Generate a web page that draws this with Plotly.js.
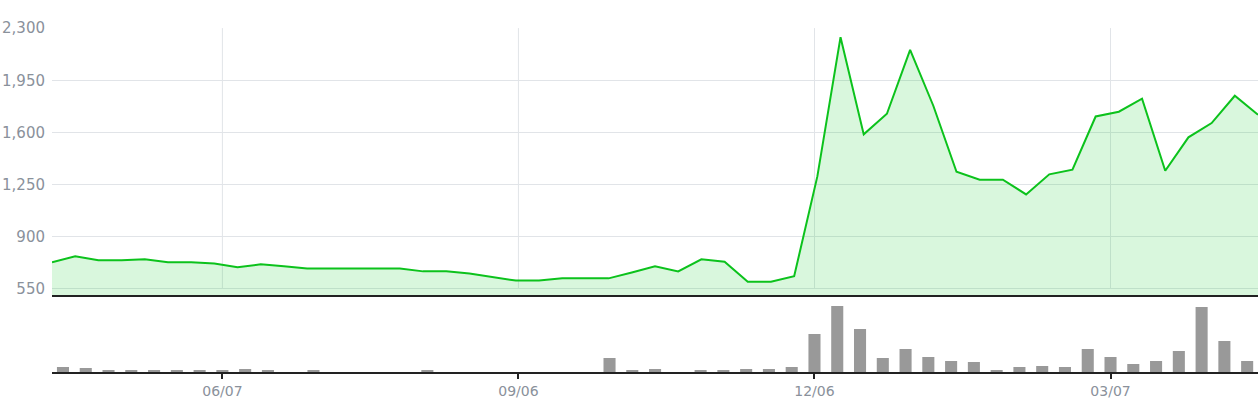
<!DOCTYPE html>
<html>
<head>
<meta charset="utf-8">
<script src="https://cdn.plot.ly/plotly-3.0.1.min.js"></script>
<style>
html,body{margin:0;padding:0;background:#fff;}
#chart{width:1259px;height:400px;}
</style>
</head>
<body>
<div id="chart"></div>
<script>
// Price line: 53 evenly spaced observations
var priceIndex = [0,1,2,3,4,5,6,7,8,9,10,11,12,13,14,15,16,17,18,19,20,21,22,23,24,25,26,27,28,29,30,31,32,33,34,35,36,37,38,39,40,41,42,43,44,45,46,47,48,49,50,51,52];
var priceValues = [729,769,742,742,749,729,729,720,695,715,702,688,688,688,688,688,668,668,653,630,606,606,621,621,621,661,702,668,749,733,599,599,635,1305,2239,1587,1725,2154,1779,1336,1283,1283,1184,1319,1350,1707,1739,1826,1343,1567,1663,1846,1719];

// Weekly volume bars
var volumeDates = ['2020-04-19','2020-04-26','2020-05-03','2020-05-10','2020-05-17','2020-05-24','2020-05-31','2020-06-07','2020-06-14','2020-06-21','2020-06-28','2020-07-05','2020-07-12','2020-07-19','2020-07-26','2020-08-02','2020-08-09','2020-08-16','2020-08-23','2020-08-30','2020-09-06','2020-09-13','2020-09-20','2020-09-27','2020-10-04','2020-10-11','2020-10-18','2020-10-25','2020-11-01','2020-11-08','2020-11-15','2020-11-22','2020-11-29','2020-12-06','2020-12-13','2020-12-20','2020-12-27','2021-01-03','2021-01-10','2021-01-17','2021-01-24','2021-01-31','2021-02-07','2021-02-14','2021-02-21','2021-02-28','2021-03-07','2021-03-14','2021-03-21','2021-03-28','2021-04-04','2021-04-11','2021-04-18'];
var volumeValues = [5,4,2,2,2,2,2,2,3,2,0,2,0,0,0,0,2,0,0,0,0,0,0,0,14,2,3,0,2,2,3,3,5,38,66,43,14,23,15,11,10,2,5,6,5,23,15,8,11,21,65,31,11];

// Axis ticks
var xTickDates = ['2020-06-07','2020-09-06','2020-12-06','2021-03-07'];
var xTickLabels = ['06/07','09/06','12/06','03/07'];
var yTickValues = [550,900,1250,1600,1950,2300];

var xRange = ['2020-04-15 15:00','2021-04-21 08:00'];
var gridColor = '#e1e4e8';
var tickFont = {family:'DejaVu Sans, Verdana, sans-serif', size:15, color:'#8a919b'};

var traces = [
  {
    x: priceIndex, y: priceValues, xaxis:'x', yaxis:'y',
    type:'scatter', mode:'lines', fill:'tozeroy',
    fillcolor:'rgba(0,200,30,0.15)',
    line:{color:'#0cc21c', width:2},
    hoverinfo:'y', showlegend:false
  },
  {
    x: volumeDates, y: volumeValues, xaxis:'x2', yaxis:'y2',
    type:'bar', marker:{color:'#999999'},
    showlegend:false
  }
];

// vertical date gridlines of the price panel, placed through the date axis
var gridShapes = xTickDates.map(function(d){
  return {type:'line', xref:'x2', yref:'y', x0:d, x1:d,
          y0:yTickValues[0], y1:yTickValues[yTickValues.length-1],
          line:{color:gridColor, width:1}, layer:'below'};
});

var layout = {
  width:1259, height:400,
  margin:{l:52, r:1, t:28, b:28},
  paper_bgcolor:'#ffffff', plot_bgcolor:'#ffffff',
  bargap:0.47,
  showlegend:false,
  shapes: gridShapes,
  xaxis:{
    domain:[0,1], anchor:'y', range:[0,52],
    showgrid:false, showticklabels:false, ticks:'', zeroline:false, showline:false,
    fixedrange:true
  },
  yaxis:{
    domain:[0.218,1], anchor:'x', range:[496,2300.5],
    tickvals:yTickValues, tickformat:',d',
    tickfont:tickFont,
    ticks:'outside', ticklen:3, tickcolor:'rgba(0,0,0,0)',
    showgrid:true, gridcolor:gridColor, gridwidth:1,
    zeroline:false, showline:false, fixedrange:true
  },
  xaxis2:{
    domain:[0,1], anchor:'y2', type:'date', range:xRange,
    tickvals:xTickDates, ticktext:xTickLabels,
    tickfont:{family:'DejaVu Sans, Verdana, sans-serif', size:14, color:'#8a919b'},
    ticks:'outside', ticklen:5, tickwidth:2, tickcolor:'#222222',
    showgrid:false, showline:true, mirror:true, linecolor:'#222222', linewidth:2,
    zeroline:false, fixedrange:true
  },
  yaxis2:{
    domain:[0,0.218], anchor:'x2', range:[0,75],
    showgrid:false, showticklabels:false, ticks:'', zeroline:false, showline:false, fixedrange:true
  }
};

Plotly.newPlot('chart', traces, layout, {displayModeBar:false, responsive:false});
</script>
</body>
</html>
